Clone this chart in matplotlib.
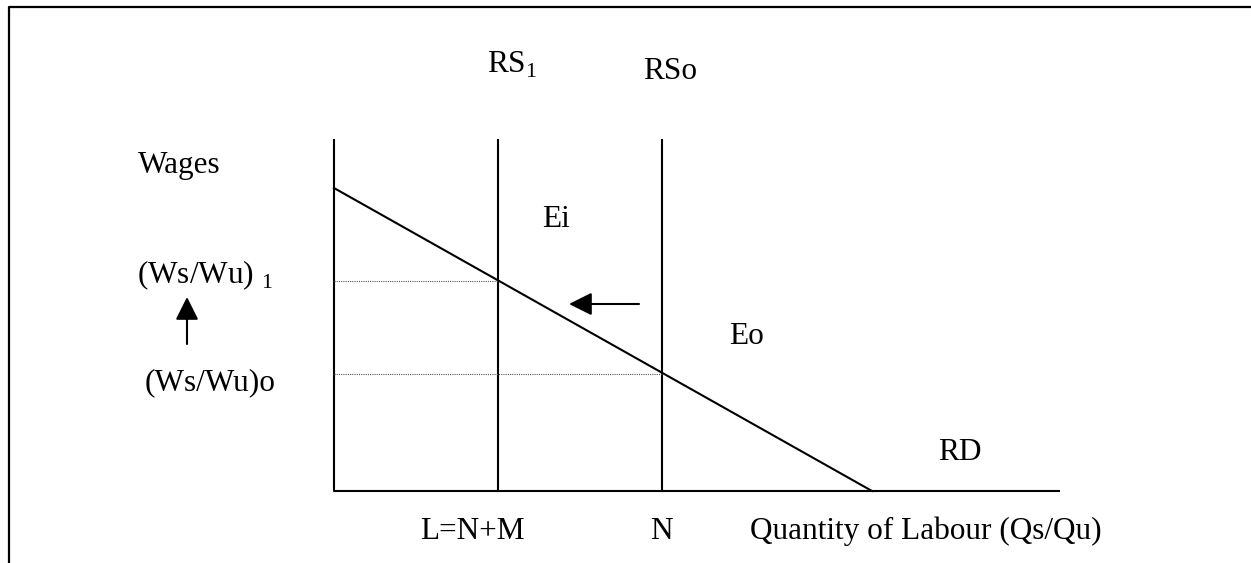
import matplotlib
matplotlib.use("Agg")
import matplotlib.pyplot as plt

plt.rcParams["font.family"] = ["Liberation Serif", "DejaVu Serif"]
plt.rcParams["mathtext.fontset"] = "custom"
plt.rcParams["mathtext.rm"] = "Liberation Serif"

# diagram geometry (pixel units of the original drawing, y grows downward)
axis_x = [334, 334, 1059]
axis_y = [140, 491, 491]
supply_x = [498, 662]          # RS1, RSo
supply_top, supply_bottom = 140, 491
demand_x = [334, 872]          # RD
demand_y = [188, 491]
wage_y = [281, 374]            # (Ws/Wu)1, (Ws/Wu)o
wage_end_x = [498, 662]

# labels: (text, left x, baseline y)
labels = [
    ("RS$_\\mathrm{1}$", 487, 73),
    ("RSo", 643, 79),
    ("Wages", 138, 173),
    ("(Ws/Wu) $_\\mathrm{1}$", 137, 283),
    ("(Ws/Wu)o", 145, 390),
    ("Ei", 542, 227),
    ("Eo", 729, 344),
    ("RD", 938, 460),
    ("L=N+M", 420, 539),
    ("N", 650, 539),
    ("Quantity of Labour (Qs/Qu)", 750, 539),
]

# arrows: (tail, head)
arrows = [
    ((639, 304), (569, 304)),
    ((187, 344), (187, 297)),
]

fig = plt.figure(figsize=(12.51, 5.63), dpi=100)
ax = fig.add_axes([0, 0, 1, 1])
ax.set_xlim(0, 1251)
ax.set_ylim(563, 0)
ax.axis("off")

# page border
ax.plot([9, 9, 1251], [563, 7, 7], color="black", lw=1.6, solid_capstyle="butt")

# axes
ax.plot(axis_x, axis_y, color="black", lw=1.5)

# supply curves
for sx in supply_x:
    ax.plot([sx, sx], [supply_top, supply_bottom], color="black", lw=1.5)

# demand curve
ax.plot(demand_x, demand_y, color="black", lw=1.5)

# dotted wage levels
for wy, wx in zip(wage_y, wage_end_x):
    ax.plot([axis_x[0], wx], [wy, wy], color="#555555", lw=0.8, linestyle=(0, (1, 1)))

for (tx, ty), (hx, hy) in arrows:
    ax.annotate("", xy=(hx, hy), xytext=(tx, ty),
                arrowprops=dict(arrowstyle="-|>,head_length=0.7,head_width=0.35",
                                color="black", lw=1.5, mutation_scale=20,
                                shrinkA=0, shrinkB=0))

for txt, x, y in labels:
    ax.text(x, y, txt, fontsize=22.5, ha="left", va="baseline", color="black")

fig.savefig("out.png", dpi=100)
